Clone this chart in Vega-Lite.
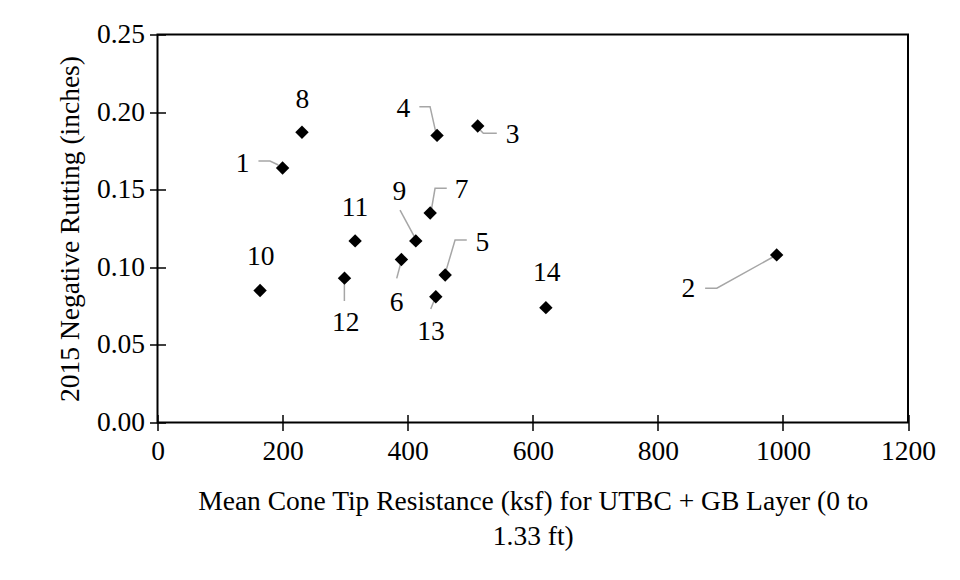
{
  "$schema": "https://vega.github.io/schema/vega-lite/v6.json",
  "width": 750.5,
  "height": 388,
  "autosize": "none",
  "padding": {"left": 157.5, "top": 34.5, "right": 52, "bottom": 157.5},
  "background": "white",
  "config": {
    "view": {"stroke": "black", "strokeWidth": 2},
    "font": "Liberation Serif",
    "text": {"font": "Liberation Serif"}
  },
  "datasets": {
    "points": [
      {"id": "1", "x": 200, "y": 0.164, "lx": 136, "ly": 0.1666},
      {"id": "2", "x": 990, "y": 0.108, "lx": 849, "ly": 0.0858},
      {"id": "3", "x": 512, "y": 0.191, "lx": 568, "ly": 0.1852},
      {"id": "4", "x": 447, "y": 0.185, "lx": 393, "ly": 0.2018},
      {"id": "5", "x": 460, "y": 0.095, "lx": 519.5, "ly": 0.1159},
      {"id": "6", "x": 390, "y": 0.105, "lx": 382.5, "ly": 0.0772},
      {"id": "7", "x": 436, "y": 0.135, "lx": 486.4, "ly": 0.1498},
      {"id": "8", "x": 231, "y": 0.187, "lx": 231.6, "ly": 0.2078},
      {"id": "9", "x": 413, "y": 0.117, "lx": 386.7, "ly": 0.1487},
      {"id": "10", "x": 164, "y": 0.085, "lx": 165, "ly": 0.1064},
      {"id": "11", "x": 316, "y": 0.117, "lx": 315.8, "ly": 0.1384},
      {"id": "12", "x": 299, "y": 0.093, "lx": 301, "ly": 0.0639},
      {"id": "13", "x": 445, "y": 0.081, "lx": 437.4, "ly": 0.0585},
      {"id": "14", "x": 621, "y": 0.074, "lx": 622.4, "ly": 0.0961}
    ],
    "leaders": [
      {"id": "1", "seq": 1, "x": 161.4, "y": 0.1685},
      {"id": "1", "seq": 2, "x": 179.9, "y": 0.1685},
      {"id": "1", "seq": 3, "x": 193.2, "y": 0.1659},
      {"id": "4", "seq": 1, "x": 418.7, "y": 0.2035},
      {"id": "4", "seq": 2, "x": 435.8, "y": 0.2035},
      {"id": "4", "seq": 3, "x": 445.4, "y": 0.1863},
      {"id": "3", "seq": 1, "x": 542.5, "y": 0.1863},
      {"id": "3", "seq": 2, "x": 521, "y": 0.1863},
      {"id": "3", "seq": 3, "x": 513, "y": 0.1896},
      {"id": "7", "seq": 1, "x": 462.5, "y": 0.1509},
      {"id": "7", "seq": 2, "x": 443.8, "y": 0.1509},
      {"id": "7", "seq": 3, "x": 437.4, "y": 0.1358},
      {"id": "9", "seq": 1, "x": 387.8, "y": 0.1369},
      {"id": "9", "seq": 2, "x": 410.7, "y": 0.1197},
      {"id": "5", "seq": 1, "x": 494.5, "y": 0.1176},
      {"id": "5", "seq": 2, "x": 475.8, "y": 0.1176},
      {"id": "5", "seq": 3, "x": 460.9, "y": 0.0972},
      {"id": "6", "seq": 1, "x": 382.5, "y": 0.0929},
      {"id": "6", "seq": 2, "x": 388.9, "y": 0.1026},
      {"id": "12", "seq": 1, "x": 298.8, "y": 0.0783},
      {"id": "12", "seq": 2, "x": 298.8, "y": 0.0923},
      {"id": "13", "seq": 1, "x": 436.9, "y": 0.0731},
      {"id": "13", "seq": 2, "x": 443.8, "y": 0.08},
      {"id": "2", "seq": 1, "x": 875.6, "y": 0.0865},
      {"id": "2", "seq": 2, "x": 894.3, "y": 0.0865},
      {"id": "2", "seq": 3, "x": 984.8, "y": 0.1068}
    ]
  },
  "layer": [
    {
      "data": {"name": "leaders"},
      "mark": {"type": "line", "color": "#a6a6a6", "strokeWidth": 1.5},
      "encoding": {
        "x": {
          "field": "x", "type": "quantitative",
          "scale": {"domain": [0, 1200], "nice": false, "zero": false},
          "axis": {
            "values": [0, 200, 400, 600, 800, 1000, 1200], "format": "d",
            "grid": false, "domain": false,
            "offset": -8, "tickSize": 16, "tickColor": "black", "tickWidth": 1.5,
            "labelFontSize": 27.5, "labelColor": "black", "labelPadding": 7, "labelFlush": false,
            "labelFont": "Liberation Serif",
            "title": ["Mean Cone Tip Resistance (ksf) for UTBC + GB Layer (0 to", "1.33 ft)"],
            "titleFont": "Liberation Serif", "titleFontSize": 27.5, "titleFontWeight": "normal",
            "titleColor": "black", "titlePadding": 22, "titleLineHeight": 35
          }
        },
        "y": {
          "field": "y", "type": "quantitative",
          "scale": {"domain": [0, 0.25], "nice": false, "zero": false},
          "axis": {
            "values": [0, 0.05, 0.1, 0.15, 0.2, 0.25], "format": ".2f",
            "grid": false, "domain": false,
            "offset": -8, "tickSize": 16, "tickColor": "black", "tickWidth": 1.5,
            "labelFontSize": 27.5, "labelColor": "black", "labelPadding": 5, "labelFlush": false,
            "labelFont": "Liberation Serif",
            "title": "2015 Negative Rutting (inches)",
            "titleFont": "Liberation Serif", "titleFontSize": 27.5, "titleFontWeight": "normal",
            "titleColor": "black", "titlePadding": 12
          }
        },
        "detail": {"field": "id"},
        "order": {"field": "seq", "type": "quantitative"}
      }
    },
    {
      "data": {"name": "points"},
      "mark": {"type": "point", "shape": "diamond", "filled": true, "color": "black", "size": 180, "opacity": 1},
      "encoding": {
        "x": {"field": "x", "type": "quantitative"},
        "y": {"field": "y", "type": "quantitative"}
      }
    },
    {
      "data": {"name": "points"},
      "mark": {"type": "text", "fontSize": 27.5, "color": "black", "baseline": "middle", "align": "center", "font": "Liberation Serif"},
      "encoding": {
        "x": {"field": "lx", "type": "quantitative"},
        "y": {"field": "ly", "type": "quantitative"},
        "text": {"field": "id"}
      }
    }
  ]
}
